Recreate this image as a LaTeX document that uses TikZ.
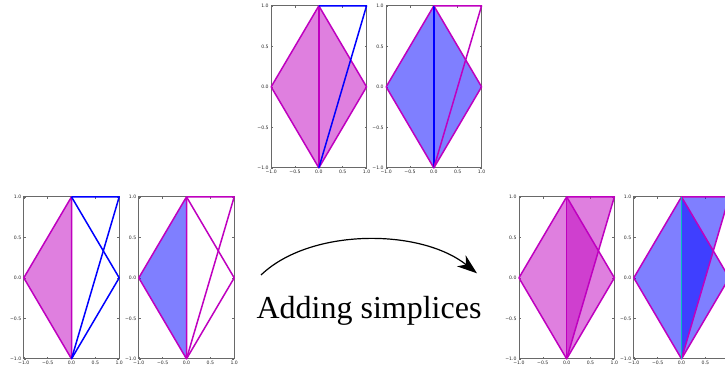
\documentclass[tikz,border=0pt]{standalone}
\usepackage{fontspec}
\setmainfont{Liberation Serif}
\newfontfamily\tickfont{DejaVu Sans}
\usepackage{tikz}
\usetikzlibrary{
    arrows.meta
}
\definecolor{PlotMagenta}{RGB}{191,0,191}
\definecolor{PlotBlue}{RGB}{0,0,255}
\definecolor{PlotCyan}{RGB}{0,191,191}
\definecolor{FrameGray}{RGB}{105,105,105}
\tikzset{
  axisbox/.style  = {draw=FrameGray, line width=0.8pt},
  tickline/.style = {FrameGray, line width=0.5pt},
  ticklab/.style  = {font=\tickfont\fontsize{4.6}{5.5}\selectfont,
                     text=black!85, inner sep=0pt},
  medge/.style    = {PlotMagenta, line width=1.5pt, line join=round},
  bedge/.style    = {PlotBlue, line width=1.5pt, line join=round},
  cedge/.style    = {PlotCyan, line width=1.8pt},
  mfill/.style    = {fill=PlotMagenta, fill opacity=0.5},
  bfill/.style    = {fill=PlotBlue, fill opacity=0.5},
  panel/.style    = {x=47.7pt, y=81pt}
}
% axes box, inward ticks and tick labels of one panel
\newcommand{\plotframe}[1]{%
  \draw[axisbox] (-1,-1) rectangle (1,1);
  \foreach \v/\lab [count=\k] in {-1/−1.0, -0.5/−0.5, 0/0.0, 0.5/0.5, 1/1.0}{
    \draw[tickline] (\v,-1) -- ++(0pt,2pt);
    \draw[tickline] (\v,1) -- ++(0pt,-2pt);
    \draw[tickline] (-1,\v) -- ++(2pt,0pt);
    \draw[tickline] (1,\v) -- ++(-2pt,0pt);
    \node[ticklab, anchor=north] (#1x\k) at ([yshift=-1.8pt]\v,-1) {\lab};
    \node[ticklab, anchor=east] (#1y\k) at ([xshift=-2.3pt]-1,\v) {\lab};
  }}

\begin{document}
\begin{tikzpicture}[x=1pt, y=1pt]
\useasboundingbox (0,0) rectangle (725,373);
\clip (0,0) rectangle (725,373);

% top row
\begin{scope}[shift={(318.85,286.15)}, panel]
  \plotframe{ta}
  \fill[mfill] (-1,0) -- (0,1) -- (1,0) -- (0,-1) -- cycle;
  \draw[medge] (-1,0) -- (0,1) -- (1,0) -- (0,-1) -- cycle;
  \draw[medge] (0,-1) -- (0,1);
  \draw[bedge] (0,1) -- (1,1) -- (0,-1);
\end{scope}
\begin{scope}[shift={(433.85,286.15)}, panel]
  \plotframe{tb}
  \fill[bfill] (-1,0) -- (0,1) -- (1,0) -- (0,-1) -- cycle;
  \draw[medge] (-1,0) -- (0,1) -- (1,0) -- (0,-1) -- cycle;
  \draw[bedge] (0,-1) -- (0,1);
  \draw[medge] (0,1) -- (1,1) -- (0,-1);
\end{scope}

% bottom left
\begin{scope}[shift={(71.5,95.15)}, panel]
  \plotframe{la}
  \fill[mfill] (-1,0) -- (0,1) -- (0,-1) -- cycle;
  \draw[medge] (-1,0) -- (0,1) -- (0,-1) -- cycle;
  \draw[bedge] (0,1) -- (1,1) -- (0,-1);
  \draw[bedge] (0,1) -- (1,0) -- (0,-1);
\end{scope}
\begin{scope}[shift={(186.5,95.15)}, panel]
  \plotframe{lb}
  \fill[bfill] (-1,0) -- (0,1) -- (0,-1) -- cycle;
  \draw[medge] (-1,0) -- (0,1) -- (0,-1) -- cycle;
  \draw[medge] (0,1) -- (1,1) -- (0,-1);
  \draw[medge] (0,1) -- (1,0) -- (0,-1);
\end{scope}

% bottom right
\begin{scope}[shift={(566.65,95.15)}, panel]
  \plotframe{ra}
  \fill[mfill] (-1,0) -- (0,1) -- (0,-1) -- cycle;
  \fill[mfill] (1,0) -- (0,1) -- (0,-1) -- cycle;
  \fill[mfill] (1,1) -- (0,1) -- (0,-1) -- cycle;
  \draw[medge] (-1,0) -- (0,1) -- (1,0) -- (0,-1) -- cycle;
  \draw[medge] (0,1) -- (1,1) -- (0,-1);
  \draw[medge] (0,-1) -- (0,1);
\end{scope}
\begin{scope}[shift={(681.5,95.15)}, panel]
  \plotframe{rb}
  \fill[bfill] (-1,0) -- (0,1) -- (0,-1) -- cycle;
  \fill[bfill] (1,0) -- (0,1) -- (0,-1) -- cycle;
  \fill[bfill] (1,1) -- (0,1) -- (0,-1) -- cycle;
  \draw[medge] (-1,0) -- (0,1) -- (1,0) -- (0,-1) -- cycle;
  \draw[medge] (0,1) -- (1,1) -- (0,-1);
  \draw[cedge] (0,-1) -- (0,1);
\end{scope}

% arrow and caption
\coordinate (from) at (261,98);
\coordinate (to) at (477,99.7);
\draw[-{Stealth[length=20pt, width=14pt, inset=6pt]}, line width=1.2pt]
  (from) .. controls (310,145) and (420,145) .. (to);
\node[font=\fontsize{32}{38}\selectfont, anchor=base, inner sep=0pt] (caption)
  at (369,54.7) {Adding simplices};
\end{tikzpicture}
\end{document}
